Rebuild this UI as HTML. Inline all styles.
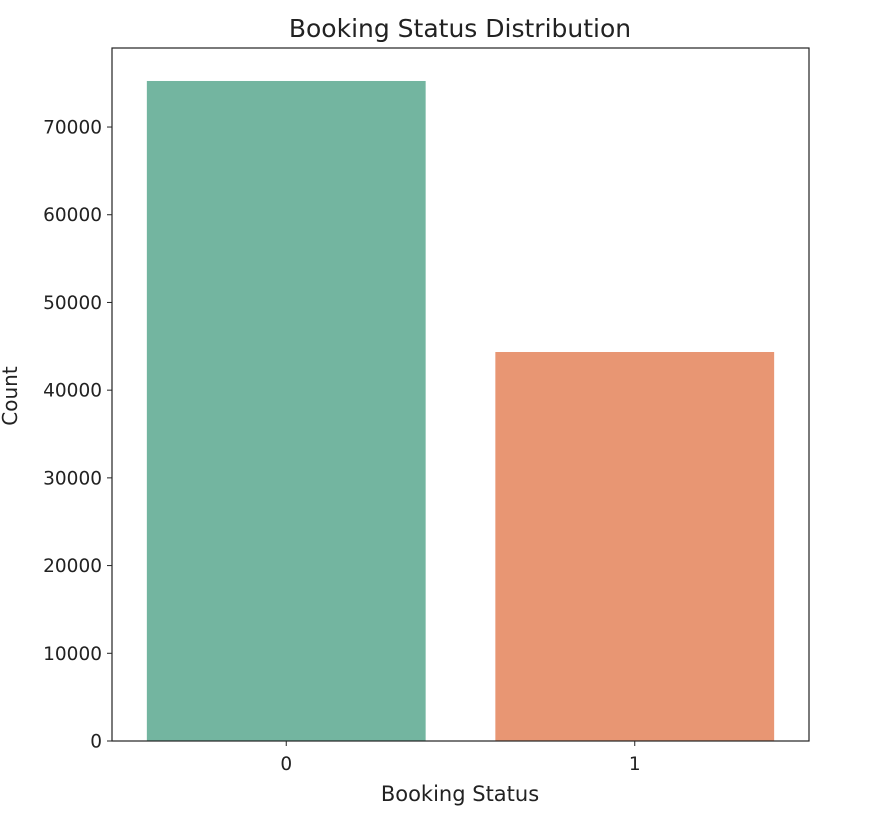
<!DOCTYPE html>
<html><head><meta charset="utf-8"><style>
body{margin:0;background:#fff;}
svg text{font-family:"DejaVu Sans","Liberation Sans",sans-serif;fill:#222;}
</style></head><body>
<svg id="chart" width="874" height="817" xmlns="http://www.w3.org/2000/svg">
<text x="460" y="37" font-size="25" text-anchor="middle">Booking Status Distribution</text>
<g id="plot"></g>
<text x="460" y="801" font-size="21" text-anchor="middle">Booking Status</text>
<text x="17" y="396" font-size="20" text-anchor="middle" transform="rotate(-90 17 396)">Count</text>
</svg>
<script>
const categories = ["0", "1"];
const counts = [75250, 44350];
const colors = ["#73b5a0", "#e89673"];
const yTicks = [0, 10000, 20000, 30000, 40000, 50000, 60000, 70000];

const L = 112, R = 809, T = 48, B = 741;
const pxPer10k = 87.71;
function y(v){ return B - v / 10000 * pxPer10k; }
function x(i){ return L + (i + 0.5) / categories.length * (R - L); }
const bw = 0.8 * (R - L) / categories.length;
const NS = "http://www.w3.org/2000/svg";
const g = document.getElementById('plot');
function mk(tag, attrs){ const e = document.createElementNS(NS, tag); for (const k in attrs) e.setAttribute(k, attrs[k]); g.appendChild(e); return e; }

categories.forEach((c, i) => {
  const r = mk('rect', {x: x(i) - bw/2, y: y(counts[i]), width: bw, height: B - y(counts[i]), fill: colors[i]});
  
  
  const t = mk('line', {x1: x(i), x2: x(i), y1: B, y2: B + 5, stroke: '#222', 'stroke-width': 1});
  
  
  const lb = mk('text', {x: x(i), y: B + 29, 'font-size': 18.5, 'text-anchor': 'middle'});
  lb.textContent = c;
  
  
});
yTicks.forEach(v => {
  const t = mk('line', {x1: L - 5, x2: L, y1: y(v), y2: y(v), stroke: '#222', 'stroke-width': 1});
  
  
  const lb = mk('text', {x: L - 10, y: y(v) + 6.5, 'font-size': 18.5, 'text-anchor': 'end'});
  lb.textContent = v;
  
  
});
const frame = mk('rect', {x: L, y: T, width: R - L, height: B - T, fill: 'none', stroke: '#222', 'stroke-width': 1.2});


</script>
</body></html>
